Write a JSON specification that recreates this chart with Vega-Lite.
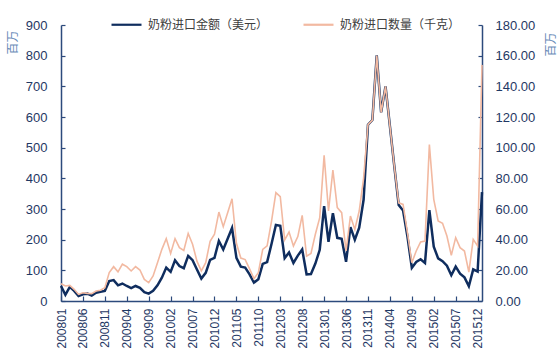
{
"$schema": "https://vega.github.io/schema/vega-lite/v6.json",
"width": 421, "height": 276,
"autosize": {"type": "none"},
"padding": {"left": 61, "top": 25, "right": 77, "bottom": 54},
"data": {"values": [
{"m":"200801","a":49,"q":11.3},{"m":"200802","a":20,"q":9.8},{"m":"200803","a":46,"q":10.2},{"m":"200804","a":33,"q":7.6},{"m":"200805","a":16,"q":4.3},{"m":"200806","a":22,"q":5.4},{"m":"200807","a":24,"q":5.0},{"m":"200808","a":18,"q":4.8},{"m":"200809","a":27,"q":6.5},{"m":"200810","a":30,"q":7.0},{"m":"200811","a":33,"q":8.7},{"m":"200812","a":65,"q":18.5},
{"m":"200901","a":68,"q":22.4},{"m":"200902","a":51,"q":19.0},{"m":"200903","a":57,"q":24.0},{"m":"200904","a":49,"q":22.4},{"m":"200905","a":42,"q":19.6},{"m":"200906","a":49,"q":22.4},{"m":"200907","a":43,"q":20.2},{"m":"200908","a":29,"q":14.1},{"m":"200909","a":24,"q":12.0},{"m":"200910","a":33,"q":16.3},{"m":"200911","a":51,"q":25.0},{"m":"200912","a":76,"q":33.7},
{"m":"201001","a":109,"q":40.7},{"m":"201002","a":95,"q":31.0},{"m":"201003","a":133,"q":40.7},{"m":"201004","a":114,"q":34.8},{"m":"201005","a":107,"q":33.0},{"m":"201006","a":147,"q":44.0},{"m":"201007","a":133,"q":37.0},{"m":"201008","a":103,"q":26.0},{"m":"201009","a":73,"q":19.6},{"m":"201010","a":92,"q":25.0},{"m":"201011","a":134,"q":39.0},{"m":"201012","a":141,"q":43.5},
{"m":"201101","a":196,"q":58.0},{"m":"201102","a":168,"q":48.5},{"m":"201103","a":203,"q":57.6},{"m":"201104","a":238,"q":66.7},{"m":"201105","a":141,"q":37.6},{"m":"201106","a":112,"q":28.0},{"m":"201107","a":109,"q":27.0},{"m":"201108","a":87,"q":21.0},{"m":"201109","a":60,"q":14.6},{"m":"201110","a":71,"q":18.5},{"m":"201111","a":121,"q":33.7},{"m":"201112","a":127,"q":36.0},
{"m":"201201","a":186,"q":52.0},{"m":"201202","a":248,"q":70.7},{"m":"201203","a":245,"q":68.0},{"m":"201204","a":140,"q":39.8},{"m":"201205","a":158,"q":45.0},{"m":"201206","a":124,"q":35.9},{"m":"201207","a":148,"q":42.0},{"m":"201208","a":168,"q":55.9},{"m":"201209","a":87,"q":29.3},{"m":"201210","a":88,"q":31.0},{"m":"201211","a":122,"q":43.5},{"m":"201212","a":167,"q":54.3},
{"m":"201301","a":309,"q":95.0},{"m":"201302","a":193,"q":58.7},{"m":"201303","a":286,"q":85.4},{"m":"201304","a":206,"q":60.9},{"m":"201305","a":203,"q":57.6},{"m":"201306","a":128,"q":32.6},{"m":"201307","a":241,"q":55.4},{"m":"201308","a":200,"q":46.7},{"m":"201309","a":239,"q":58.7},{"m":"201310","a":330,"q":80.0},{"m":"201311","a":575,"q":115.0},{"m":"201312","a":590,"q":118.0},
{"m":"201401","a":801,"q":160.0},{"m":"201402","a":615,"q":123.0},{"m":"201403","a":700,"q":140.0},{"m":"201404","a":570,"q":114.0},{"m":"201405","a":440,"q":88.0},{"m":"201406","a":313,"q":64.0},{"m":"201407","a":295,"q":63.0},{"m":"201408","a":210,"q":44.6},{"m":"201409","a":108,"q":25.0},{"m":"201410","a":127,"q":32.6},{"m":"201411","a":136,"q":38.5},{"m":"201412","a":124,"q":39.1},
{"m":"201501","a":296,"q":102.0},{"m":"201502","a":177,"q":66.3},{"m":"201503","a":139,"q":52.2},{"m":"201504","a":130,"q":50.7},{"m":"201505","a":115,"q":42.4},{"m":"201506","a":84,"q":29.8},{"m":"201507","a":112,"q":41.3},{"m":"201508","a":89,"q":34.8},{"m":"201509","a":77,"q":32.6},{"m":"201510","a":48,"q":18.9},{"m":"201511","a":103,"q":40.2},{"m":"201512","a":96,"q":35.9},
{"m":"201601","a":355,"q":154.0}
]},
"config": {
  "view": {"stroke": null},
  "axis": {"grid": false, "domainColor": "#2c4a7c", "tickColor": "#2c4a7c", "domainWidth": 1.5, "tickWidth": 1.2, "labelFont": "Liberation Sans", "labelColor": "#1f3864"},
  "legend": {"orient": "none", "legendX": 49, "legendY": -17, "direction": "horizontal", "title": null, "symbolType": "stroke", "symbolSize": 900, "symbolStrokeWidth": 2.2, "labelFontSize": 12, "labelFont": "Noto Sans CJK SC", "labelColor": "#404040", "labelOffset": 5, "columnPadding": 30, "padding": 0}
},
"encoding": {
  "x": {"field": "m", "type": "ordinal", "scale": {"type": "point", "padding": 0},
    "axis": {"title": null, "values": ["200801","200806","200811","200904","200909","201002","201007","201012","201105","201110","201203","201208","201301","201306","201311","201404","201409","201502","201507","201512"],
      "labelAngle": -90, "tickSize": -5, "labelPadding": 12, "labelFontSize": 12}}
},
"layer": [
  {"mark": {"type": "line", "strokeWidth": 2.5},
   "encoding": {
     "y": {"field": "a", "type": "quantitative", "scale": {"domain": [0, 900], "nice": false},
       "axis": {"values": [0,100,200,300,400,500,600,700,800,900], "tickSize": -4, "labelPadding": 18, "labelFontSize": 13,
         "title": "百万", "titleX": -49, "titleY": 17, "titleAngle": -90, "titleAlign": "center", "titleBaseline": "middle", "titleFont": "Noto Sans CJK SC", "titleFontSize": 12, "titleFontWeight": "normal", "titleColor": "#6a8bb8"}},
     "color": {"datum": "奶粉进口金额（美元）", "type": "nominal", "scale": {"domain": ["奶粉进口金额（美元）", "奶粉进口数量（千克）"], "range": ["#0f2d5e", "#f2b9a1"]}}
   }},
  {"mark": {"type": "line", "strokeWidth": 1.6},
   "encoding": {
     "y": {"field": "q", "type": "quantitative", "scale": {"domain": [0, 180], "nice": false},
       "axis": {"orient": "right", "values": [0,20,40,60,80,100,120,140,160,180], "format": ".2f", "tickSize": -4, "labelPadding": 17, "labelFontSize": 13,
         "title": "百万", "titleX": 68, "titleY": 19, "titleAngle": -90, "titleAlign": "center", "titleBaseline": "middle", "titleFont": "Noto Sans CJK SC", "titleFontSize": 12, "titleFontWeight": "normal", "titleColor": "#6a8bb8"}},
     "color": {"datum": "奶粉进口数量（千克）", "type": "nominal", "scale": {"domain": ["奶粉进口金额（美元）", "奶粉进口数量（千克）"], "range": ["#0f2d5e", "#f2b9a1"]}}
   }}
],
"resolve": {"scale": {"y": "independent"}}
}
